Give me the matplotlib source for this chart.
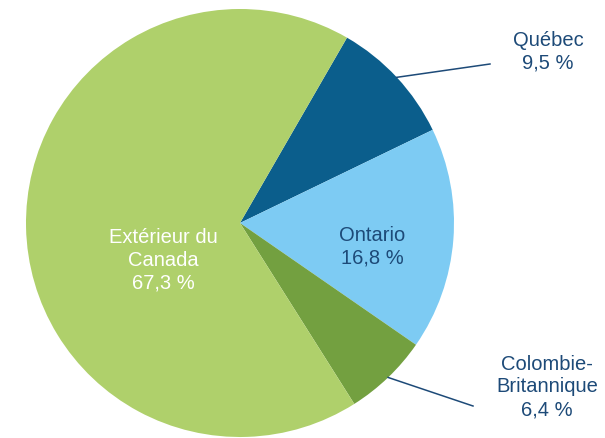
import matplotlib.pyplot as plt
import numpy as np

regions = ['Québec', 'Ontario', 'Colombie-\nBritannique', 'Extérieur du\nCanada']
shares = [9.5, 16.8, 6.4, 67.3]
colors = ['#0b5e8c', '#7dcbf3', '#73a040', '#afd06b']

plt.rcParams['font.family'] = ['Liberation Sans', 'DejaVu Sans']

fig = plt.figure(figsize=(6.05, 4.39), dpi=100)
ax = fig.add_axes([0, 0, 1, 1])
ax.set_xlim(0, 605)
ax.set_ylim(0, 439)
ax.axis('off')

cx, cy, r = 240, 215, 214
wedges, _ = ax.pie(shares, colors=colors, startangle=60, counterclock=False,
                   center=(cx, cy), radius=r, frame=True)
ax.set_xlim(0, 605)
ax.set_ylim(0, 439)
ax.axis('off')

def fmt(v):
    return ('%.1f %%' % v).replace('.', ',')

txt = '#1d4a78'
fs = 14.5

# inside labels
ax.text(372, 439 - 247, 'Ontario\n' + fmt(shares[1]), ha='center', va='center',
        color=txt, fontsize=fs, linespacing=1.25)
ax.text(163, 439 - 260, 'Extérieur du\nCanada\n' + fmt(shares[3]), ha='center',
        va='center', color='white', fontsize=fs, linespacing=1.25)

# outside labels with leader lines
for i, (lx, ly, ex, ey) in {0: (548, 52, 490, 65), 2: (547, 387, 473, 407)}.items():
    w = wedges[i]
    a = np.deg2rad((w.theta1 + w.theta2) / 2)
    px, py = cx + r * np.cos(a), cy + r * np.sin(a)
    ax.plot([px, ex], [py, 439 - ey], color='#1d4a78', lw=1.1)
    ax.text(lx, 439 - ly, regions[i] + '\n' + fmt(shares[i]), ha='center',
            va='center', color=txt, fontsize=fs, linespacing=1.25)

fig.savefig('out.png', dpi=100)
